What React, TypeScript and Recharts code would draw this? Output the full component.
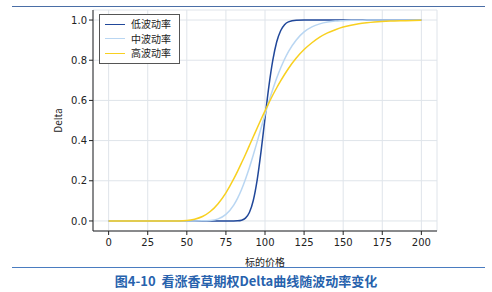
import {
  LineChart, Line, XAxis, YAxis, CartesianGrid,
} from 'recharts';

// 标的价格 (x) and call delta for three vol levels
const prices = [0, 10, 20, 30, 40, 50, 55, 60, 65, 70, 75, 80, 82.5, 85, 87.5, 90, 92.5, 95, 97.5, 100,
  102.5, 105, 107.5, 110, 112.5, 115, 120, 125, 130, 135, 140, 145, 150, 155, 160, 165, 170, 180, 190, 200];
const lowVol = [0, 0, 0, 0, 0, 0, 0, 0, 0, 0, 0, 0.0001, 0.0007, 0.0037, 0.014, 0.042, 0.102, 0.205, 0.348, 0.512,
  0.671, 0.8, 0.892, 0.947, 0.977, 0.991, 0.999, 1, 1, 1, 1, 1, 1, 1, 1, 1, 1, 1, 1, 1];
const midVol = [0, 0, 0, 0, 0, 0, 0, 0.0004, 0.0026, 0.0106, 0.033, 0.079, 0.114, 0.157, 0.208, 0.265, 0.328, 0.395, 0.463, 0.53,
  0.595, 0.655, 0.711, 0.761, 0.805, 0.843, 0.901, 0.941, 0.966, 0.981, 0.99, 0.995, 0.997, 0.999, 0.999, 1, 1, 1, 1, 1];
const highVol = [0, 0, 0, 0, 0.0001, 0.0028, 0.0089, 0.022, 0.047, 0.086, 0.14, 0.209, 0.248, 0.289, 0.331, 0.375, 0.419, 0.463, 0.506, 0.548,
  0.588, 0.627, 0.663, 0.697, 0.729, 0.759, 0.811, 0.853, 0.887, 0.915, 0.936, 0.952, 0.965, 0.974, 0.981, 0.986, 0.99, 0.995, 0.997, 0.999];

const xTicks = [0, 25, 50, 75, 100, 125, 150, 175, 200];
const yTicks = [0, 0.2, 0.4, 0.6, 0.8, 1.0];

const seriesNames = ['低波动率', '中波动率', '高波动率'];
const seriesColors = ['#21489a', '#b9d6f2', '#f8d020'];

const data = prices.map((p, i) => ({ p, low: lowVol[i], mid: midVol[i], high: highVol[i] }));

const CJK = '"Noto Sans CJK SC", "Noto Sans", sans-serif';
const tickStyle = { fontSize: 10, fill: '#222', fontFamily: '"DejaVu Sans", sans-serif' };

function LegendBox() {
  return (
    <div style={{
      position: 'absolute', left: 99, top: 14, width: 66,
      border: '1px solid #555', background: '#fff', padding: '2px 8px 2px 5px',
      fontFamily: CJK, fontSize: 10, color: '#222', lineHeight: '14.5px',
    }}>
      {seriesNames.map((n, i) => (
        <div key={n} style={{ display: 'flex', alignItems: 'center' }}>
          <span style={{ display: 'inline-block', width: 20, height: 0, borderTop: `1.5px solid ${seriesColors[i]}`, marginRight: 6 }} />
          <span>{n}</span>
        </div>
      ))}
    </div>
  );
}

export default function App() {
  return (
    <div style={{ position: 'absolute', left: 0, top: 0, width: 492, height: 292, background: '#fff', overflow: 'hidden' }}>
      <div style={{ position: 'absolute', left: 12, top: 6, width: 473, height: 0, borderTop: '1px solid #4a6ea6' }} />
      <LineChart width={492} height={292} data={data} margin={{ top: 10, right: 55, left: 0, bottom: 0 }}>
        <CartesianGrid stroke="#dfe4ea" strokeWidth={1} />
        <XAxis
          dataKey="p" type="number" domain={[-10, 210]} ticks={xTicks} height={61}
          tick={tickStyle} tickSize={4} tickMargin={4} tickLine={{ stroke: '#222' }} axisLine={{ stroke: '#222' }}
          label={{ value: '标的价格', position: 'insideBottom', offset: 26, style: { fontFamily: CJK, fontSize: 10, fill: '#222' } }}
        />
        <XAxis xAxisId="top" orientation="top" dataKey="p" type="number" domain={[-10, 210]} height={0} tick={false} tickLine={false} axisLine={{ stroke: '#222' }} />
        <YAxis
          type="number" domain={[-0.05, 1.05]} ticks={yTicks} width={93}
          tickFormatter={(v: number) => v.toFixed(1)}
          tick={tickStyle} tickSize={4} tickMargin={2} tickLine={{ stroke: '#222' }} axisLine={{ stroke: '#222' }}
          label={{ value: 'Delta', angle: -90, position: 'insideLeft', offset: 58, style: { fontFamily: CJK, fontSize: 10, fill: '#222', textAnchor: 'middle' } }}
        />
        <YAxis yAxisId="right" orientation="right" type="number" domain={[-0.05, 1.05]} width={0} tick={false} tickLine={false} axisLine={{ stroke: '#222' }} />
        <Line dataKey="low" name={seriesNames[0]} type="monotone" stroke={seriesColors[0]} strokeWidth={1.5} dot={false} isAnimationActive={false} />
        <Line dataKey="mid" name={seriesNames[1]} type="monotone" stroke={seriesColors[1]} strokeWidth={1.5} dot={false} isAnimationActive={false} />
        <Line dataKey="high" name={seriesNames[2]} type="monotone" stroke={seriesColors[2]} strokeWidth={1.5} dot={false} isAnimationActive={false} />
      </LineChart>
      <LegendBox />
      <div style={{ position: 'absolute', left: 12, top: 267, width: 473, height: 0, borderTop: '1.5px solid #4a7cc0' }} />
      <div style={{
        position: 'absolute', left: 0, top: 272, width: 492, textAlign: 'center',
        fontFamily: CJK, fontWeight: 700, fontSize: 13, color: '#2762ad', lineHeight: '18px',
      }}>
        图4-10&nbsp;&nbsp;看涨香草期权Delta曲线随波动率变化
      </div>
    </div>
  );
}
